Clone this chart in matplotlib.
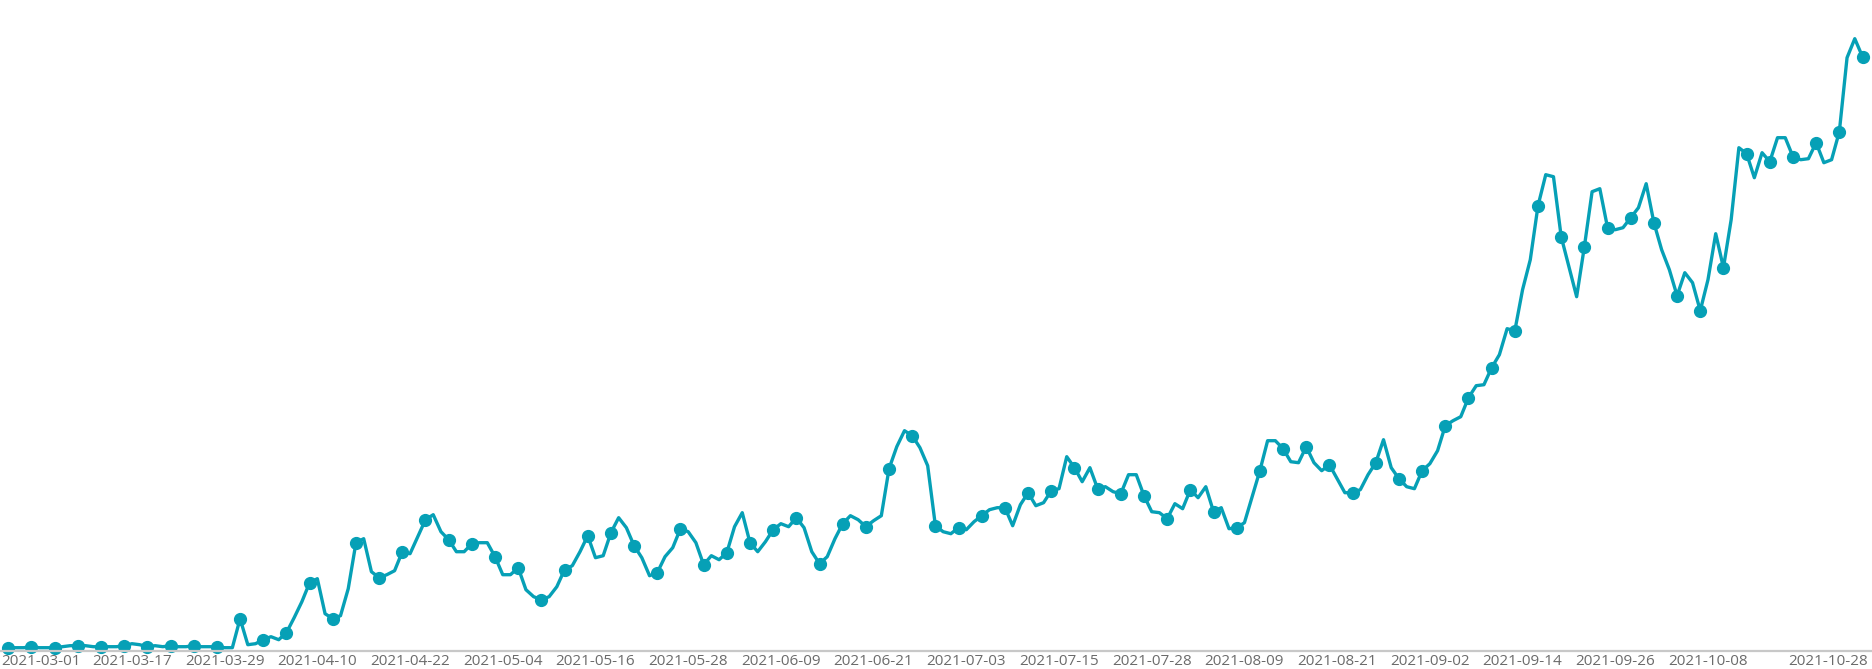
import matplotlib
matplotlib.use("Agg")
import matplotlib.pyplot as plt
import matplotlib.transforms as mtransforms
import pandas as pd

# daily dates, one day (2021-07-21) is missing in the source data
dates = pd.date_range("2021-03-01", "2021-10-28").drop(pd.Timestamp("2021-07-21"))
date_labels = [d.strftime("%Y-%m-%d") for d in dates]

values = [
    3, 3, 3, 4, 3, 3, 3, 4, 5, 5, 5, 4, 4, 4, 4, 5, 7, 6, 4, 5,
    4, 5, 4, 4, 5, 4, 4, 4, 3, 3, 32, 6, 7, 11, 14, 11, 18, 33, 49, 68,
    72, 37, 32, 35, 62, 108, 112, 79, 73, 76, 80, 99, 97, 114, 131, 136, 119, 111, 99, 99,
    107, 108, 108, 94, 76, 76, 83, 61, 54, 51, 54, 64, 81, 85, 99, 115, 93, 95, 118, 133,
    123, 105, 93, 75, 78, 94, 103, 122, 119, 108, 86, 95, 91, 98, 124, 138, 108, 99, 109, 121,
    127, 124, 133, 123, 99, 87, 94, 112, 127, 135, 131, 124, 130, 135, 182, 204, 220, 215, 203, 185,
    125, 119, 117, 123, 121, 129, 135, 141, 143, 143, 125, 146, 158, 145, 148, 160, 162, 194, 183, 169,
    183, 162, 164, 159, 157, 176, 176, 155, 139, 138, 132, 147, 142, 161, 153, 164, 139, 143, 122, 123,
    128, 154, 180, 210, 210, 202, 189, 188, 204, 188, 180, 186, 172, 158, 158, 161, 176, 188, 211, 183,
    172, 164, 162, 180, 187, 200, 225, 230, 234, 253, 265, 266, 283, 296, 322, 320, 361, 391, 445, 476,
    474, 414, 384, 354, 404, 459, 462, 423, 421, 423, 433, 443, 467, 428, 401, 381, 355, 378, 368, 340,
    371, 417, 383, 431, 503, 497, 473, 498, 489, 513, 513, 494, 491, 492, 508, 488, 491, 519, 593, 612,
    594,
]

# which categories get a label (others are hidden to avoid overlap)
label_idx = [0] + list(range(16, 221, 12)) + [len(dates) - 1]

W, H = 1872, 669
fig = plt.figure(figsize=(W / 100, H / 100), dpi=100)
axis_y = 650.7
ax = fig.add_axes([0, (H - axis_y) / H, 1, axis_y / H])

x = list(range(len(values)))
ax.plot(x, values, color="#06a0b6", lw=2.4, marker="o", markersize=8.5,
        markevery=3, solid_joinstyle="round", clip_on=False)

step = (1862.5 - 8.3) / 240
ax.set_xlim(-8.3 / step, 240 + (W - 1862.5) / step)
ax.set_ylim(0, axis_y)

for s in ["top", "left", "right"]:
    ax.spines[s].set_visible(False)
ax.spines["bottom"].set_color("#c8c8c8")
ax.spines["bottom"].set_linewidth(1.6)
ax.set_yticks([])

ax.set_xticks(label_idx)
ax.set_xticklabels([date_labels[i] for i in label_idx])
ax.tick_params(axis="x", length=0, pad=2.5, labelsize=11, labelcolor="#6b6b6b")
for t in ax.get_xticklabels():
    t.set_fontfamily("Open Sans")

# keep the first and last labels inside the picture
labels = ax.get_xticklabels()
labels[0].set_horizontalalignment("left")
labels[0].set_transform(labels[0].get_transform() +
                        mtransforms.ScaledTranslation(-6.6 / 100, 0, fig.dpi_scale_trans))
labels[-1].set_horizontalalignment("right")
labels[-1].set_transform(labels[-1].get_transform() +
                         mtransforms.ScaledTranslation(5.5 / 100, 0, fig.dpi_scale_trans))

fig.savefig("out.png", dpi=100)
